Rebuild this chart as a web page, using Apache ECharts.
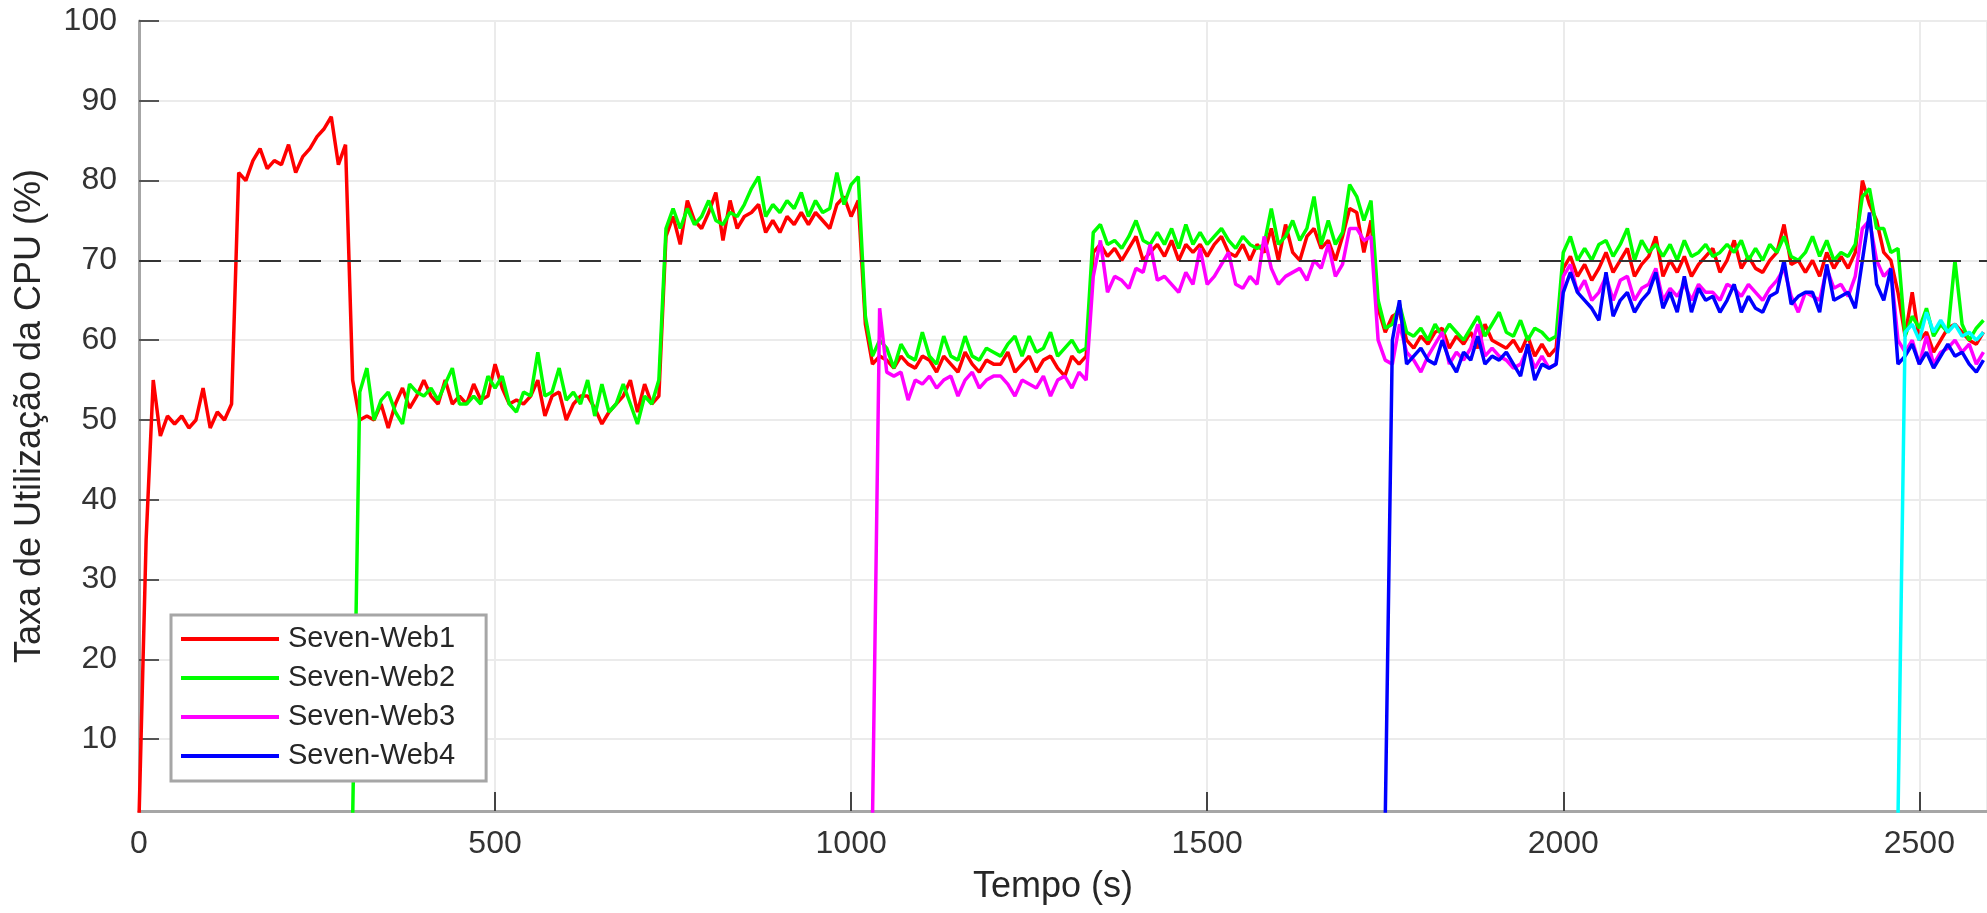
<!DOCTYPE html>
<html lang="pt">
<head>
    <meta charset="UTF-8">
    <title>Taxa de Utilização da CPU</title>
    <style>
        html, body { margin: 0; padding: 0; background: #fff; }
        #chart { width: 1987px; height: 913px; }
    </style>
</head>
<body>
    <div id="chart"></div>
    <script src="https://cdn.jsdelivr.net/npm/echarts@6/dist/echarts.min.js"></script>
    <script>
        // amostras a cada 10 s
        var step = 10;
        var threshold = 70;
        var names = ['Seven-Web1', 'Seven-Web2', 'Seven-Web3', 'Seven-Web4', 'Seven-Web5'];
        var colors = ['#ff0000', '#00ff00', '#ff00ff', '#0000ff', '#00ffff'];
        var starts = [0, 300, 1030, 1750, 2470];

        var web1 = [
            0, 35, 55, 48, 50.5, 49.5, 50.5, 49, 50, 54,
            49, 51, 50, 52, 81, 80, 82.5, 84, 81.5, 82.5,
            82, 84.5, 81, 83, 84, 85.5, 86.5, 88, 82, 84.5,
            55, 50, 50.5, 50, 52, 49, 52, 54, 51.5, 53,
            55, 53, 52, 55, 52, 53, 52, 54.5, 52.5, 53,
            57, 54, 52, 52.5, 52, 53, 55, 50.5, 53, 53.5,
            50, 52, 53, 53, 51.5, 49.5, 51, 52, 53, 55,
            51, 54.5, 52, 53, 73, 75.5, 72, 77.5, 75, 74,
            76, 78.5, 72.5, 77.5, 74, 75.5, 76, 77, 73.5, 75,
            73.5, 75.5, 74.5, 76, 74.5, 76, 75, 74, 77, 78,
            75.5, 77.5, 62, 57, 58, 57.5, 56.5, 58, 57, 56.5,
            58, 57.5, 56, 58, 57, 56, 58.5, 57, 56, 57.5,
            57, 57, 58.5, 56, 57, 58, 56, 57.5, 58, 56.5,
            55.5, 58, 57, 58, 71, 72, 70.5, 71.5, 70, 71.5,
            73, 70, 71, 72, 70.5, 72.5, 70, 72, 71, 72,
            70.5, 72, 73, 71, 70.5, 72, 70, 72, 71, 74,
            70, 74.5, 71, 70, 73, 74, 71.5, 72.5, 70, 73,
            76.5, 76, 71, 75, 64, 61, 63, 63.5, 60, 59,
            60.5, 59.5, 61, 61.5, 59, 60.5, 59.5, 61, 59, 62,
            60, 59.5, 59, 60, 58.5, 60.5, 58, 59.5, 58, 59,
            69, 70.5, 68, 69.5, 67.5, 69, 71, 68.5, 70, 71.5,
            68, 69.5, 70.5, 73, 68, 70, 68.5, 70.5, 68, 69.5,
            70.5, 71.5, 68.5, 70, 72.5, 69, 70.5, 69, 68.5, 70,
            71, 74.5, 69.5, 70, 68.5, 70, 68, 71, 69, 70.5,
            69, 71, 80, 77, 75, 71, 70, 66, 60.5, 66,
            60, 61, 58.5, 60, 61.5, 62, 61, 60, 59.5, 61
        ];

        var web2 = [
            0, 53.5, 56.5, 50, 52.5, 53.5, 51, 49.5, 54.5, 53.5,
            53, 54, 52.5, 54.5, 56.5, 52, 52, 53, 52, 55.5,
            54, 55.5, 52, 51, 53.5, 53, 58.5, 53, 53.5, 56.5,
            52.5, 53.5, 52, 55, 50.5, 54.5, 51, 52, 54.5, 52,
            49.5, 53, 52, 55, 74, 76.5, 74, 76.5, 74.5, 75.5,
            77.5, 75, 74.5, 76, 75.5, 77, 79, 80.5, 75.5, 77,
            76, 77.5, 76.5, 78.5, 75.5, 77.5, 76, 76.5, 81, 77,
            79.5, 80.5, 63, 58, 60, 59, 56.5, 59.5, 58, 57.5,
            61, 58, 57, 60.5, 58, 57.5, 60.5, 58, 57.5, 59,
            58.5, 58, 59.5, 60.5, 58, 60.5, 58.5, 59, 61, 58,
            59, 60, 58.5, 59, 73.5, 74.5, 72, 72.5, 71.5, 73,
            75, 72.5, 72, 73.5, 72, 74, 71.5, 74.5, 72, 73.5,
            72, 73, 74, 72.5, 71.5, 73, 72, 71.5, 72, 76.5,
            72, 73, 75, 72.5, 74, 78, 72, 75, 72, 73.5,
            79.5, 78, 75, 77.5, 65, 61.5, 62, 64.5, 61, 60.5,
            61.5, 60, 62, 60.5, 62, 61, 60, 61.5, 63, 60.5,
            62, 63.5, 61, 60.5, 62.5, 60, 61.5, 61, 60, 60.5,
            71, 73, 70, 71.5, 70, 72, 72.5, 70.5, 72, 74,
            70, 72.5, 71, 72, 70.5, 72, 70, 72.5, 70.5, 71,
            72, 70.5, 71, 72, 71, 72.5, 70, 71.5, 70, 72,
            71, 73, 70.5, 70, 71, 73, 70.5, 72.5, 70, 71,
            70.5, 72, 78, 79, 74, 74, 71, 71.5, 60.5, 63,
            61.5, 64, 60.5, 62, 61, 70, 62, 60, 61.5, 62.5
        ];

        var web3 = [
            0, 64, 56, 55.5, 56, 52.5, 55,
            54.5, 55.5, 54, 55, 55.5, 53, 55, 56, 54, 55,
            55.5, 55.5, 54.5, 53, 55, 54.5, 54, 55.5, 53, 55,
            55.5, 54, 56, 55, 68, 72.5, 66, 68, 67.5, 66.5,
            69, 68.5, 72, 67.5, 68, 67, 66, 68.5, 67, 71.5,
            67, 68, 69.5, 71, 67, 66.5, 68, 67, 73, 69,
            67, 68, 68.5, 69, 67.5, 70, 69, 72, 68, 69.5,
            74, 74, 72.5, 73, 60, 57.5, 57, 62, 58.5, 57.5,
            56, 58, 59.5, 61, 57, 58.5, 57.5, 59, 62, 58,
            59, 58, 57.5, 56.5, 57, 59, 56.5, 58, 56.5, 57,
            68, 69.5, 66, 67.5, 65, 66, 68, 65, 67.5, 68,
            65, 66.5, 67, 69, 65, 66.5, 65.5, 67, 65, 67,
            66, 66, 65, 67, 66.5, 65.5, 67, 66, 65, 66.5,
            67.5, 69, 65.5, 63.5, 66, 65.5, 65, 69, 66.5, 67,
            65.5, 68, 74, 75, 70, 68, 69, 60, 58.5, 60,
            57, 60.5, 57, 58.5, 59, 60, 58.5, 59.5, 57, 58.5
        ];

        var web4 = [
            0, 60, 65, 57, 58,
            59, 57.5, 57, 60, 57.5, 56, 58.5, 57.5, 60.5, 57,
            58, 57.5, 58.5, 57, 55.5, 59.5, 55, 57, 56.5, 57,
            66, 68.5, 66, 65, 64, 62.5, 68.5, 63, 65, 66,
            63.5, 65, 66, 68.5, 64, 66, 63.5, 68, 63.5, 66.5,
            65, 65.5, 63.5, 65, 67, 63.5, 65.5, 64, 63.5, 65.5,
            66, 70, 64.5, 65.5, 66, 66, 63.5, 69.5, 65, 65.5,
            66, 64, 70, 76, 67, 65, 69, 57, 58, 59.5,
            57, 58.5, 56.5, 58, 59.5, 58, 58.5, 57, 56, 57.5
        ];

        var web5 = [0, 61, 62, 60, 63.5, 61, 62.5, 61, 62, 60.5, 61, 60, 61];

        var xTicks = [0, 500, 1000, 1500, 2000, 2500];
        var yTicks = [10, 20, 30, 40, 50, 60, 70, 80, 90, 100];

        var allValues = [web1, web2, web3, web4, web5];
        var font = 'Liberation Sans, Arial, Helvetica, sans-serif';

        function toPairs(start, values) {
            var res = [];
            for (var i = 0; i < values.length; i++) {
                res.push([start + i * step, values[i]]);
            }
            return res;
        }

        var series = [];
        for (var k = 0; k < names.length; k++) {
            series.push({
                name: names[k],
                type: 'line',
                data: toPairs(starts[k], allValues[k]),
                symbol: 'none',
                smooth: false,
                clip: true,
                lineStyle: { color: colors[k], width: 3.5 },
                itemStyle: { color: colors[k] }
            });
        }
        // linha de referência tracejada (70%)
        series[series.length - 1].markLine = {
            silent: true,
            symbol: ['none', 'none'],
            label: { show: false },
            lineStyle: { color: '#333', width: 2, type: [22, 18] },
            data: [{ yAxis: threshold }]
        };

        var chart = echarts.init(document.getElementById('chart'));
        chart.setOption({
            animation: false,
            backgroundColor: '#fff',
            grid: { left: 139, right: 0, top: 21, bottom: 102 },
            legend: {
                orient: 'vertical',
                left: 171,
                top: 615,
                data: names.slice(0, 4),
                icon: 'rect',
                itemWidth: 98,
                itemHeight: 4,
                itemGap: 9,
                padding: [9, 31, 10, 10],
                borderColor: '#a6a6a6',
                borderWidth: 3,
                backgroundColor: '#fff',
                textStyle: { fontFamily: font, fontSize: 29, color: '#262626', lineHeight: 30, padding: [0, 0, 0, 4] }
            },
            xAxis: {
                type: 'value',
                min: 0,
                max: 2595,
                interval: 500,
                name: 'Tempo (s)',
                nameLocation: 'middle',
                nameGap: 58,
                nameTextStyle: { fontFamily: font, fontSize: 36, color: '#262626', padding: [0, 20, 0, 0] },
                axisLine: { show: true, lineStyle: { color: '#a6a6a6', width: 3 } },
                axisTick: { show: true, inside: true, length: 19, lineStyle: { color: '#444', width: 2 } },
                axisLabel: {
                    fontFamily: font, fontSize: 32, color: '#333', margin: 17,
                    showMaxLabel: false,
                    formatter: function (v) { return xTicks.indexOf(v) >= 0 ? String(v) : ''; }
                },
                splitLine: { show: true, lineStyle: { color: '#ebebeb', width: 2 } }
            },
            yAxis: {
                type: 'value',
                min: 1,
                max: 100,
                splitNumber: 10,
                minInterval: 10,
                maxInterval: 10,
                name: 'Taxa de Utilização da CPU (%)',
                nameLocation: 'middle',
                nameGap: 91,
                nameTextStyle: { fontFamily: font, fontSize: 36, color: '#262626' },
                axisLine: { show: true, lineStyle: { color: '#a6a6a6', width: 3 } },
                axisTick: { show: true, inside: true, length: 20, lineStyle: { color: '#555', width: 2 } },
                axisLabel: {
                    fontFamily: font, fontSize: 32, color: '#333', margin: 22,
                    showMinLabel: false,
                    formatter: function (v) { return yTicks.indexOf(v) >= 0 ? String(v) : ''; }
                },
                splitLine: { show: true, lineStyle: { color: '#ebebeb', width: 2 } }
            },
            series: series
        });
    </script>
</body>
</html>
